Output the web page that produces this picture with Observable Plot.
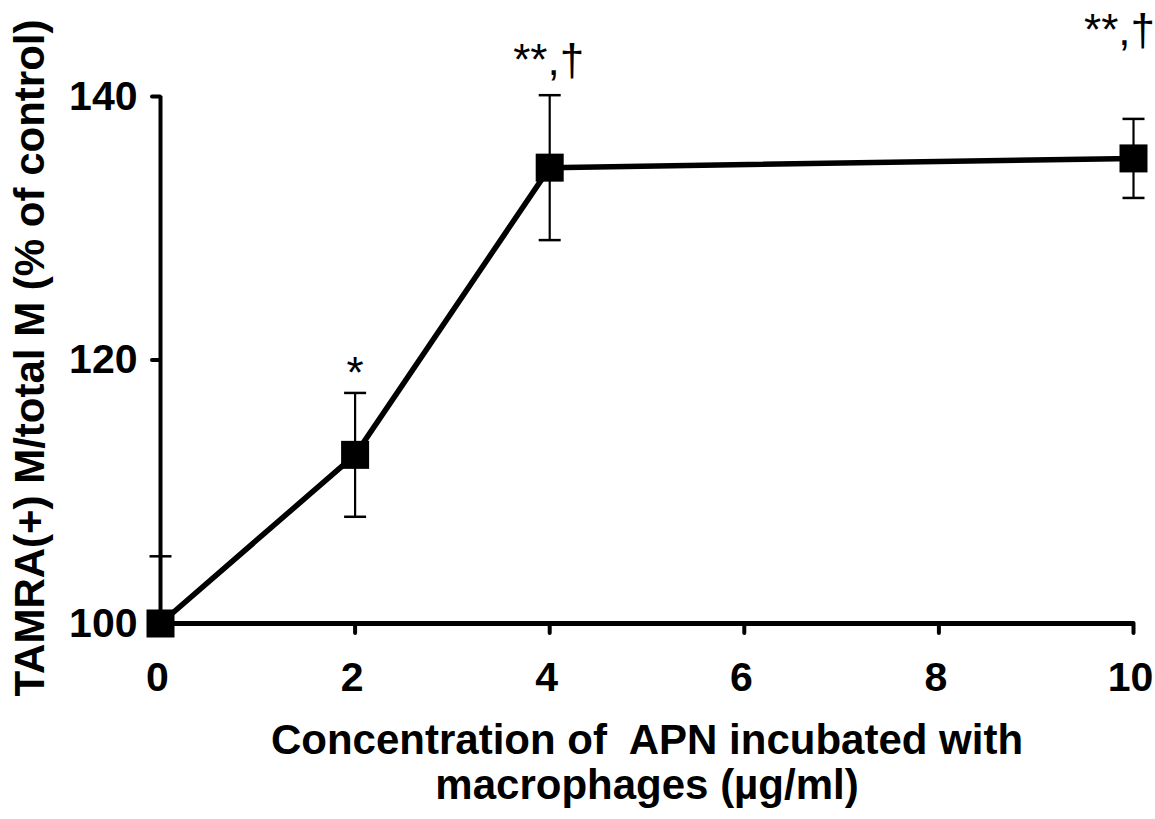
<!DOCTYPE html>
<html>
<head>
<meta charset="utf-8">
<script src="https://cdn.jsdelivr.net/npm/d3@7"></script>
<script src="https://cdn.jsdelivr.net/npm/@observablehq/plot@0.6"></script>
<style>
  html, body { margin: 0; padding: 0; background: #fff; }
</style>
</head>
<body>
<div id="chart"></div>
<script>
// APN concentration (µg/ml) and TAMRA(+) macrophage ratio, % of control
const concentrations = [0, 2, 4, 10];
const meanPercent = [100, 112.8, 134.6, 135.3];
const errorPercent = [5.1, 4.7, 5.5, 3.0];
const significance = ["", "*", "**,†", "**,†"];

const xTicks = [0, 2, 4, 6, 8, 10];
const yTicks = [100, 120, 140];
const xTitle = ["Concentration of  APN incubated with", "macrophages (µg/ml)"];
const yTitle = "TAMRA(+) M/total M (% of control)";

const rows = concentrations.map((c, i) => ({
  c,
  mean: meanPercent[i],
  hi: meanPercent[i] + errorPercent[i],
  lo: meanPercent[i] - errorPercent[i],
  sig: significance[i]
}));

// horizontal bar used as an error-bar cap
const capSymbol = {
  draw(context, size) {
    const w = Math.sqrt(size / Math.PI);
    context.moveTo(-w, 0);
    context.lineTo(w, 0);
  }
};

const FONT = "'Liberation Sans', Arial, Helvetica, sans-serif";
const showLower = (d) => d.lo >= 100; // the lower whisker is hidden under the baseline

const chart = Plot.plot({
  width: 1155,
  height: 819,
  marginLeft: 160,
  marginRight: 22,
  marginTop: 96,
  marginBottom: 196,
  style: { fontFamily: FONT, background: "#fff", color: "#000" },
  x: { domain: [0, 10], label: null },
  y: { domain: [100, 140], label: null },
  marks: [
    // axes: tick marks, then bold tick labels
    Plot.axisX({ ticks: xTicks, tickSize: 10, strokeWidth: 4, strokeLinecap: "round",
                 tickFormat: () => "", label: null }),
    Plot.text(xTicks, { x: (d) => d, frameAnchor: "bottom", dy: 67, dx: -3, lineAnchor: "bottom",
                        fontSize: 41, fontWeight: "bold" }),
    Plot.axisY({ ticks: yTicks, tickSize: 8, tickPadding: 15, strokeWidth: 4, strokeLinecap: "round",
                 fontSize: 41, fontWeight: "bold", label: null }),
    Plot.ruleY([100], { x1: 0, x2: 10, strokeWidth: 5 }),
    Plot.ruleX([0], { y1: 99.6, y2: 140, strokeWidth: 4 }),

    // error bars
    Plot.ruleX(rows, { x: "c", y1: "mean", y2: "hi", strokeWidth: 2.2 }),
    Plot.ruleX(rows, { filter: showLower, x: "c", y1: "lo", y2: "mean", strokeWidth: 2.2 }),
    Plot.dot(rows, { x: "c", y: "hi", symbol: capSymbol, r: 11, stroke: "#000", strokeWidth: 2.5 }),
    Plot.dot(rows, { filter: showLower, x: "c", y: "lo", symbol: capSymbol, r: 11, stroke: "#000", strokeWidth: 2.5 }),

    // mean response line and markers
    Plot.line(rows, { x: "c", y: "mean", strokeWidth: 5.5, strokeLinejoin: "round" }),
    Plot.dot(rows, { x: "c", y: "mean", symbol: "square", r: 15.8, fill: "#000", stroke: null }),

    // significance marks
    Plot.text(rows, { filter: (d) => d.c === 2, x: "c", y: "hi", text: "sig", dy: -5,
                      lineAnchor: "bottom", fontSize: 44, fontWeight: "normal" }),
    Plot.text(rows, { filter: (d) => d.c === 4, x: "c", y: "hi", text: "sig", dy: -20, dx: -1,
                      lineAnchor: "bottom", fontSize: 44, fontWeight: "normal" }),
    Plot.text(rows, { filter: (d) => d.c === 10, x: "c", y: "hi", text: "sig", dy: -74, dx: -14,
                      lineAnchor: "bottom", fontSize: 44, fontWeight: "normal" }),

    // axis titles
    Plot.text([xTitle[0]], { frameAnchor: "bottom", dy: 130, lineAnchor: "bottom", fontSize: 42, fontWeight: "bold" }),
    Plot.text([xTitle[1]], { frameAnchor: "bottom", dy: 175, lineAnchor: "bottom", fontSize: 42, fontWeight: "bold" }),
    Plot.text([yTitle], { frameAnchor: "left", textAnchor: "middle", rotate: -90, dx: -117, dy: -2,
                          lineAnchor: "bottom", fontSize: 42, fontWeight: "bold" })
  ]
});

document.getElementById("chart").appendChild(chart);
</script>
</body>
</html>
